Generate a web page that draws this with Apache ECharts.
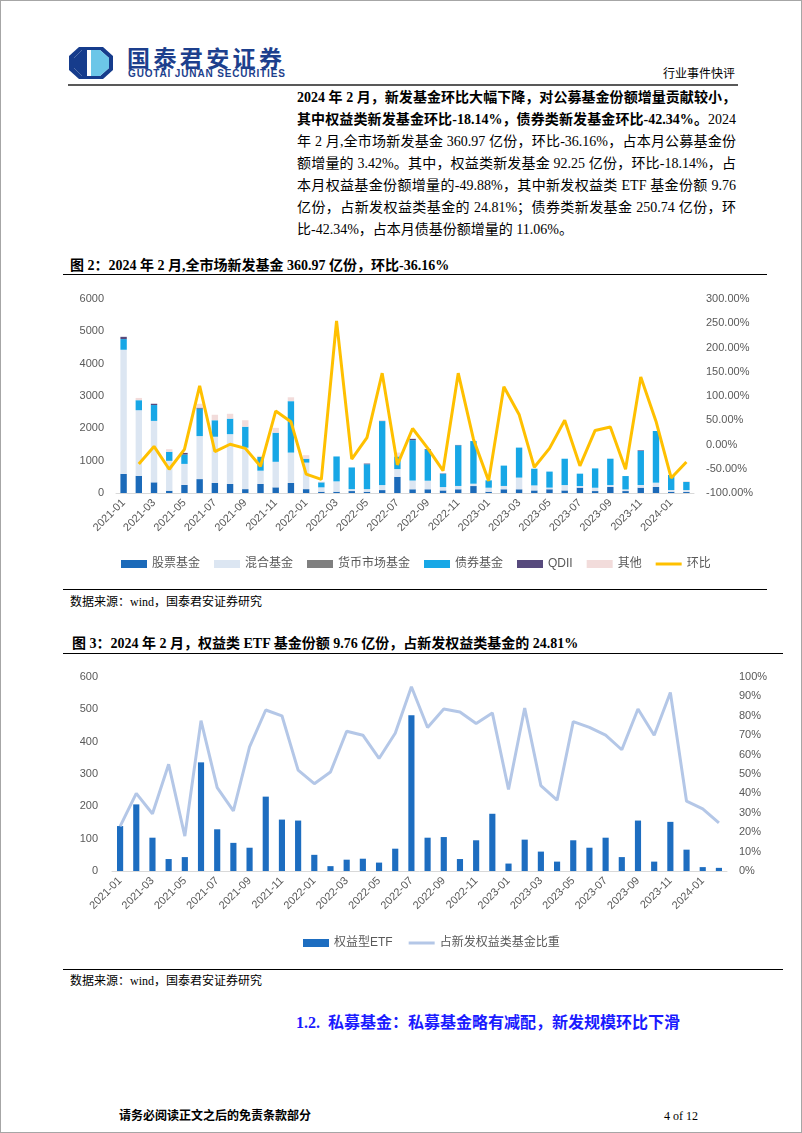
<!DOCTYPE html>
<html><head><meta charset="utf-8">
<script src="https://cdn.jsdelivr.net/npm/echarts@6/dist/echarts.min.js"></script>
<style>
html,body{margin:0;padding:0;background:#fff;}
#page{position:relative;width:802px;height:1133px;box-sizing:border-box;border:1px solid #a6a6a6;overflow:hidden;
 font-family:"Liberation Serif","Noto Sans CJK SC",serif;color:#000;}
.a{position:absolute;white-space:nowrap;}
.p{position:absolute;left:296px;width:439px;height:22px;line-height:22px;font-size:14px;text-align:justify;text-align-last:justify;white-space:nowrap;}
.p.last{text-align-last:left;}
.b{font-weight:bold;}
.rule{position:absolute;background:#000;}
.cap{font-size:14px;font-weight:bold;line-height:18px;}
.src{font-size:12px;line-height:16px;}
</style></head>
<body><div id="page">
<svg class="a" style="left:68px;top:46px" width="44" height="32" viewBox="0 0 44 32">
 <polygon points="10,0 34,0 44,9 44,23 34,32 10,32 0,23 0,9" fill="#163c8c"/>
 <polygon points="13,3 31,3 40,11 40,21 31,29 13,29 5,21 5,11" fill="#fff"/>
 <polygon points="22,3 31,3 40,11 40,21 31,29 22,29" fill="#6cc6e8"/>
 <polygon points="13,3 18,3 18,29 13,29 5,21 5,11" fill="#163c8c"/>
</svg>
<div class="a" style="left:126px;top:43px;font-size:23px;line-height:26px;font-weight:bold;letter-spacing:3.4px;color:#1d3f8d;font-family:'Noto Sans CJK SC',sans-serif;">国泰君安证券</div>
<div class="a" style="left:127px;top:67px;font-size:10px;line-height:12px;font-weight:bold;letter-spacing:0.85px;color:#1d3f8d;font-family:'Liberation Sans',sans-serif;">GUOTAI JUNAN SECURITIES</div>
<div class="a" style="right:66px;top:65px;font-size:12px;line-height:16px;">行业事件快评</div>
<div class="rule" style="left:67px;top:83px;width:670px;height:2px;background:#595959;"></div>

<div class="p b" style="top:86px;">2024 年 2 月，新发基金环比大幅下降，对公募基金份额增量贡献较小，</div>
<div class="p" style="top:108px;"><span class="b">其中权益类新发基金环比-18.14%，债券类新发基金环比-42.34%。</span>2024</div>
<div class="p" style="top:130px;">年 2 月,全市场新发基金 360.97 亿份，环比-36.16%，占本月公募基金份</div>
<div class="p" style="top:152px;">额增量的 3.42%。其中，权益类新发基金 92.25 亿份，环比-18.14%，占</div>
<div class="p" style="top:174px;">本月权益基金份额增量的-49.88%，其中新发权益类 ETF 基金份额 9.76</div>
<div class="p" style="top:196px;">亿份，占新发权益类基金的 24.81%；债券类新发基金 250.74 亿份，环</div>
<div class="p last" style="top:218px;">比-42.34%，占本月债基份额增量的 11.06%。</div>

<div class="a cap" style="left:69px;top:256px;">图 2：2024 年 2 月,全市场新发基金 360.97 亿份，环比-36.16%</div>
<div class="rule" style="left:62px;top:273px;width:704px;height:1px;"></div>
<div id="c1" class="a" style="left:0;top:280px;width:800px;height:300px;"></div>
<div class="rule" style="left:62px;top:588px;width:704px;height:1px;"></div>
<div class="a src" style="left:69px;top:593px;">数据来源：wind，国泰君安证券研究</div>

<div class="a cap" style="left:71px;top:634px;">图 3：2024 年 2 月，权益类 ETF 基金份额 9.76 亿份，占新发权益类基金的 24.81%</div>
<div class="rule" style="left:62px;top:652px;width:720px;height:1px;"></div>
<div id="c2" class="a" style="left:0;top:660px;width:800px;height:300px;"></div>
<div class="rule" style="left:62px;top:968px;width:720px;height:1px;"></div>
<div class="a src" style="left:69px;top:972px;">数据来源：wind，国泰君安证券研究</div>

<div class="a" style="left:295px;top:1012px;font-size:16px;line-height:20px;font-weight:bold;color:#1a1aff;">1.2.&nbsp;&nbsp;私募基金：私募基金略有减配，新发规模环比下滑</div>

<div class="a" style="left:118px;top:1107px;font-size:12px;line-height:16px;font-weight:bold;">请务必阅读正文之后的免责条款部分</div>
<div class="a" style="left:663px;top:1107px;font-size:12px;line-height:16px;">4 of 12</div>
</div>
<script>
const months = ['2021-01','2021-02','2021-03','2021-04','2021-05','2021-06','2021-07','2021-08','2021-09','2021-10','2021-11','2021-12',
 '2022-01','2022-02','2022-03','2022-04','2022-05','2022-06','2022-07','2022-08','2022-09','2022-10','2022-11','2022-12',
 '2023-01','2023-02','2023-03','2023-04','2023-05','2023-06','2023-07','2023-08','2023-09','2023-10','2023-11','2023-12',
 '2024-01','2024-02'];
// 图2 新发基金（亿份）
const stockFund = [590,530,330,70,250,430,310,280,120,280,175,310, 120,40,40,60,40,90,500,115,115,80,115,215, 40,115,115,80,115,80,165,60,185,60,165,185, 40,30];
const mixedFund = [3840,2030,1900,925,650,1330,1430,1540,1280,410,790,940, 820,135,320,60,80,155,240,270,265,103,103,73, 124,103,361,155,52,165,51,103,61,51,82,134, 52,62];
const moneyFund = [0,0,0,0,0,0,0,0,0,0,0,0, 0,0,0,0,0,0,0,0,0,0,0,0, 0,0,0,0,0,0,0,0,0,0,0,0, 0,0];
const bondFund  = [330,310,490,280,290,850,510,480,650,430,900,1590, 120,155,770,670,770,1980,390,1250,960,413,1258,1319, 227,629,928,516,495,815,382,598,815,413,1052,1598, 464,251];
const qdiiFund  = [70,0,40,0,50,30,0,0,0,0,0,0, 0,0,0,0,20,0,0,40,20,10,10,0, 0,0,0,0,0,0,0,0,0,0,20,0, 0,0];
const otherFund = [0,70,0,80,0,120,170,150,200,30,150,120, 110,20,0,0,0,30,120,0,0,0,0,0, 0,0,0,0,0,0,0,0,0,0,0,0, 0,18];
const momPct = [null,-40,-4,-51,-10,121,-14.5,0.5,-8,-45,69,47, -61,-72,255,-30,14,147,-42,33,-8,-54,147,11, -75,119,62,-47,-8,50,-44,29,36,-51,139,48, -69,-36.16];
// 图3 权益类ETF
const etfShare = [139,206,103,37,43,336,129,87,72,230,159,156, 50,15,35,38,26,69,482,103,105,37,95,177, 23,97,60,29,95,72,103,43,156,29,152,66, 12,9.76];
const etfRatio = [23,40,29.5,55,18,77.5,43,31,64,83,80,52, 45,51,72,70,58,71,95,74,83.5,82,76,81.5, 42,84,44,36.5,77,74,70,62.5,83.5,70,92,36, 32,24.81];

const FF = '"Liberation Sans","Noto Sans CJK SC",sans-serif';
const axisTxt = {fontSize:11,color:'#595959',fontFamily:FF};
const lineIcon = 'path://M0,0L26,0L26,3L0,3Z';

const c1 = echarts.init(document.getElementById('c1'));
const barS = (name,data,color)=>({name,type:'bar',stack:'t',data,barWidth:'42%',itemStyle:{color},yAxisIndex:0});
c1.setOption({
 animation:false,
 textStyle:{fontFamily:FF},
 grid:{left:115,right:107,top:18,height:194},
 legend:{left:115,top:272,itemWidth:26,itemHeight:8,itemGap:14,textStyle:{fontSize:12,color:'#595959',fontFamily:FF},
   data:[{name:'股票基金',icon:'rect'},{name:'混合基金',icon:'rect'},{name:'货币市场基金',icon:'rect'},{name:'债券基金',icon:'rect'},{name:'QDII',icon:'rect'},{name:'其他',icon:'rect'},{name:'环比',icon:lineIcon}]},
 xAxis:{type:'category',data:months,axisTick:{show:false},axisLine:{lineStyle:{color:'#d9d9d9'}},
   axisLabel:Object.assign({interval:1,rotate:45,margin:8},axisTxt)},
 yAxis:[
  {type:'value',min:0,max:6000,interval:1000,splitLine:{show:false},axisLine:{show:false},axisTick:{show:false},axisLabel:Object.assign({margin:12,formatter:v=>String(v)},axisTxt)},
  {type:'value',min:-100,max:300,interval:50,splitLine:{show:false},axisLine:{show:false},axisTick:{show:false},axisLabel:Object.assign({margin:12,formatter:v=>v.toFixed(2)+'%'},axisTxt)}
 ],
 series:[
  barS('股票基金',stockFund,'#1b6ab9'),
  barS('混合基金',mixedFund,'#dce6f2'),
  barS('货币市场基金',moneyFund,'#7f7f7f'),
  barS('债券基金',bondFund,'#17a7e6'),
  barS('QDII',qdiiFund,'#574a7d'),
  barS('其他',otherFund,'#f2dcdb'),
  {name:'环比',type:'line',yAxisIndex:1,data:momPct,symbol:'none',lineStyle:{color:'#ffc000',width:3},itemStyle:{color:'#ffc000'}}
 ]
});

const c2 = echarts.init(document.getElementById('c2'));
c2.setOption({
 animation:false,
 textStyle:{fontFamily:FF},
 grid:{left:111,right:74,top:16,height:194},
 legend:{left:297,top:271,itemWidth:26,itemHeight:8,itemGap:16,textStyle:{fontSize:12,color:'#595959',fontFamily:FF},
   data:[{name:'权益型ETF',icon:'rect'},{name:'占新发权益类基金比重',icon:lineIcon}]},
 xAxis:{type:'category',data:months,axisTick:{show:false},axisLine:{lineStyle:{color:'#d9d9d9'}},
   axisLabel:Object.assign({interval:1,rotate:45,margin:8},axisTxt)},
 yAxis:[
  {type:'value',min:0,max:600,interval:100,splitLine:{show:false},axisLine:{show:false},axisTick:{show:false},axisLabel:Object.assign({margin:14},axisTxt)},
  {type:'value',min:0,max:100,interval:10,splitLine:{show:false},axisLine:{show:false},axisTick:{show:false},axisLabel:Object.assign({margin:12,formatter:v=>v+'%'},axisTxt)}
 ],
 series:[
  {name:'权益型ETF',type:'bar',data:etfShare,barWidth:'38%',itemStyle:{color:'#1d6dc0'}},
  {name:'占新发权益类基金比重',type:'line',yAxisIndex:1,data:etfRatio,symbol:'none',lineStyle:{color:'#b4c7e7',width:3},itemStyle:{color:'#b4c7e7'}}
 ]
});
</script>
</body></html>
